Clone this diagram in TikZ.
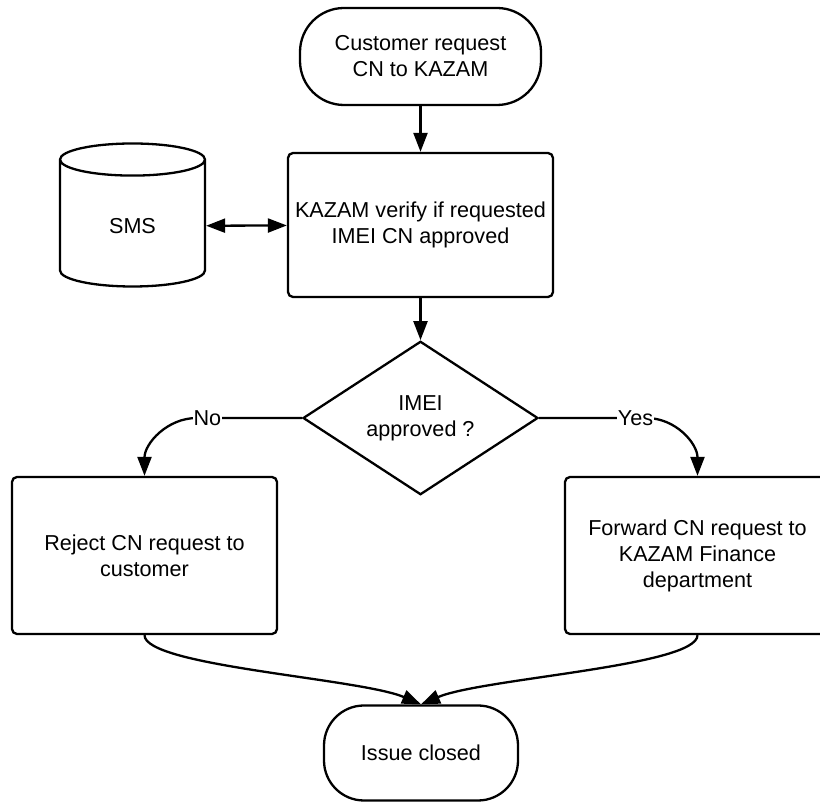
\documentclass[tikz,border=0pt]{standalone}
\usepackage{fontspec}
\setmainfont{Liberation Sans}
\usetikzlibrary{arrows.meta,shapes.geometric}

\begin{document}
\begin{tikzpicture}[x=1pt,y=1pt,
    font=\fontsize{21.6}{26}\selectfont,
    flow/.style={-{Triangle[length=19pt,width=14pt]},line width=2.3pt},
    dflow/.style={{Triangle[length=19pt,width=14pt]}-{Triangle[length=19pt,width=14pt]},line width=2.3pt},
    term/.style={draw,line width=2.3pt,rounded corners=44pt,align=center,inner sep=0pt},
    proc/.style={draw,line width=2.3pt,rounded corners=5pt,align=center,minimum width=265pt,inner sep=0pt},
    decision/.style={diamond,draw,line width=2.3pt,align=center,minimum width=235pt,minimum height=142pt,inner sep=0pt},
    store/.style={cylinder,shape border rotate=90,draw,line width=2.3pt,aspect=0.6,minimum width=145pt,minimum height=143pt},
    lbl/.style={fill=white,inner sep=1pt}]
            \clip (0,0) rectangle (820,803);

            \node[term,minimum width=241pt,minimum height=97pt] (start) at (420.5,746.5) {Customer request\\CN to KAZAM};
            \node[proc,minimum height=144pt] (verify) at (420.5,578) {KAZAM verify if requested\\IMEI CN approved};
            \node[store] (sms) at (132.5,577) {SMS};
            \node[decision] (imei) at (420.5,385) {IMEI\\approved ?};
            \node[proc,minimum height=157pt] (reject) at (144.5,247.5) {Reject CN request to\\customer};
            \node[proc,minimum height=157pt] (forward) at (697.5,247.5) {Forward CN request to\\KAZAM Finance\\department};
            \node[term,minimum width=194pt,minimum height=95pt,rounded corners=40pt] (closed) at (421,50) {Issue closed};

            \draw[flow] (start) -- (verify);
            \draw[dflow] (sms) -- (verify);
            \draw[flow] (verify) -- (imei);
            \draw[flow] (imei.west) -- node[lbl,pos=0.9] {No} ++(-105,0) .. controls +(-30,0) and +(0,32) .. (reject.north);
            \draw[flow] (imei.east) -- node[lbl,pos=0.9] {Yes} ++(107,0) .. controls +(30,0) and +(0,32) .. (forward.north);
            \draw[flow] (reject.south) .. controls +(0,-31) and +(-61,26) .. (closed.north);
            \draw[flow] (forward.south) .. controls +(0,-31) and +(61,26) .. (closed.north);
        \end{tikzpicture}
\end{document}
